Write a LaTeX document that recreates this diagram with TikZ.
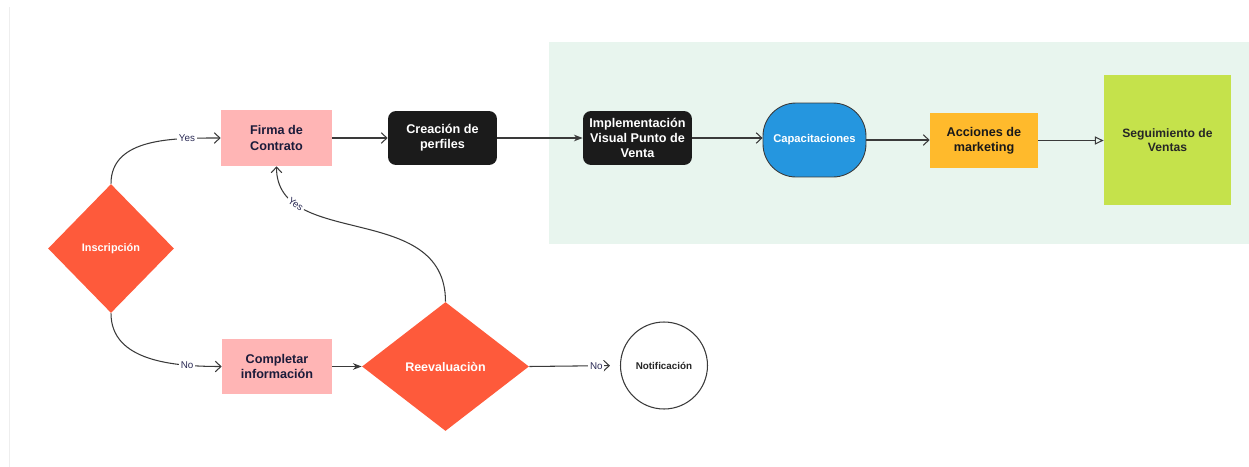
\documentclass[tikz,border=0pt]{standalone}
\usepackage{fontspec}
\setmainfont{Liberation Sans}
\usetikzlibrary{shapes.geometric,arrows.meta}
\definecolor{greenbg}{HTML}{E8F5EE}
\definecolor{pinkbox}{HTML}{FFB5B5}
\definecolor{redd}{HTML}{FE5A3B}
\definecolor{blackbox}{HTML}{1B1B1B}
\definecolor{bluebox}{HTML}{2596DF}
\definecolor{yellowbox}{HTML}{FFBA2C}
\definecolor{limebox}{HTML}{C5E24B}
\definecolor{navytext}{HTML}{1B1B3A}
\definecolor{labeltext}{HTML}{2B2B55}
\definecolor{linecol}{HTML}{3A3A3A}
\definecolor{faint}{HTML}{EEEEEE}
\begin{document}
\begin{tikzpicture}[x=0.02cm,y=-0.02cm,
  boxbase/.style={inner sep=1pt, align=center, font=\bfseries\fontsize{7.2}{8.6}\selectfont},
  pinkstep/.style={boxbase, fill=pinkbox, text=navytext, minimum width=2.2cm, minimum height=1.1cm},
  blackstep/.style={boxbase, fill=blackbox, text=white, rounded corners=0.16cm, minimum width=2.18cm, minimum height=1.08cm},
  decide/.style={diamond, fill=redd, text=white, inner sep=0pt, font=\bfseries\fontsize{6.2}{7.4}\selectfont},
  conn/.style={draw=linecol, line width=0.6pt},
  openarr/.style={conn, -{Straight Barb[length=3.2pt,width=6pt]}},
  fillarr/.style={conn, -{Stealth[length=5pt,width=3.8pt]}},
  triarr/.style={conn, -{Triangle[open,length=5pt,width=4.6pt]}},
  lbl/.style={fill=white, text=labeltext, inner sep=1pt, font=\fontsize{5.6}{6.6}\selectfont}
]
\useasboundingbox (0,0) rectangle (1249,467);
\fill[greenbg] (549,42) rectangle (1249,244);
\draw[faint, line width=0.85pt] (9.5,7) -- (9.5,467);

% nodes
\node[decide, minimum width=2.52cm, minimum height=2.58cm] (insc) at (111,248.5) {Inscripción};
\node[pinkstep, minimum width=2.22cm, minimum height=1.12cm] (firma) at (276.5,138) {Firma de\\Contrato};
\node[pinkstep] (compl) at (277,366.5) {Completar\\información};
\node[decide, minimum width=3.34cm, minimum height=2.58cm, font=\bfseries\fontsize{7.1}{8.5}\selectfont] (reev) at (445.5,366.5) {Reevaluaciòn};
\node[circle, draw=linecol, line width=0.6pt, fill=white, minimum size=1.74cm, inner sep=0pt, text=black!85, font=\bfseries\fontsize{5.6}{6.7}\selectfont] (notif) at (664,365.5) {Notificación};
\node[blackstep] (crea) at (442.5,138) {Creación de\\perfiles};
\node[blackstep] (impl) at (637.5,138) {Implementación\\Visual Punto de\\Venta};
\node[boxbase, fill=bluebox, draw=linecol, line width=0.5pt, text=white, rounded corners=0.66cm, minimum width=2.06cm, minimum height=1.48cm, font=\bfseries\fontsize{6.4}{7.6}\selectfont] (capa) at (814.5,140) {Capacitaciones};
\node[boxbase, fill=yellowbox, text=black!90, minimum width=2.16cm, minimum height=1.1cm] (acc) at (984,140.5) {Acciones de\\marketing};
\node[boxbase, fill=limebox, text=black!85, minimum width=2.54cm, minimum height=2.6cm, font=\bfseries\fontsize{6.9}{8.3}\selectfont] (seg) at (1167.5,140) {Seguimiento de\\Ventas};

% connectors
\draw[openarr] (insc.north) to[out=90,in=180] node[lbl, pos=0.77] {Yes} (firma.west);
\draw[openarr] (insc.south) to[out=-90,in=180] node[lbl, pos=0.77] {No} (compl.west);
\draw[openarr] (reev.north) .. controls (445.5,200) and (276.5,250) .. node[lbl, pos=0.79, sloped] {Yes} (firma.south);
\draw[openarr, shorten >=0.2cm] (reev.east) -- node[lbl, pos=0.74] {No} (notif.west);
\draw[openarr] (firma.east) -- (crea.west);
\draw[fillarr] (crea.east) -- (impl.west);
\draw[openarr] (impl.east) -- (impl.east -| capa.west);
\draw[openarr] (capa.east) -- (capa.east -| acc.west);
\draw[triarr] (acc.east) -- (acc.east -| seg.west);
\draw[fillarr] (compl.east) -- (reev.west);
\end{tikzpicture}
\end{document}
